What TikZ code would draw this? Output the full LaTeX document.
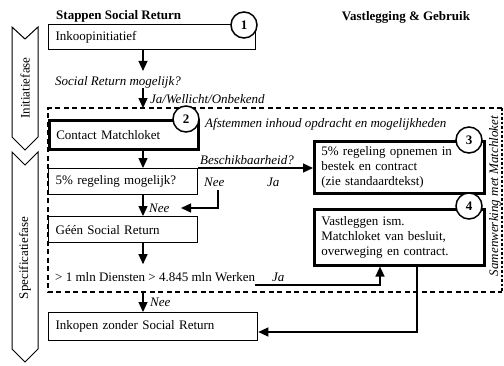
\documentclass[tikz,border=0pt]{standalone}
\usepackage{fontspec}
\setmainfont{Liberation Serif}
\usetikzlibrary{arrows.meta,positioning}
\begin{document}
\begin{tikzpicture}[x=1pt,y=-1pt]
\tikzset{Box/.style={%
        draw=black,%
        fill=white,%
        line width=1.3pt,%
        anchor=north west,%
        align=left,%
        inner xsep=7pt,%
        inner ysep=0pt,%
        font=\fontsize{13}{15}\selectfont,%
    }}
\tikzset{ThickBox/.style={Box, line width=2.6pt}}
\tikzset{StepNum/.style={shape=circle, draw=black, fill=white, line width=1.5pt,%
        minimum size=26pt, inner sep=0pt, font=\fontsize{13}{15}\selectfont\bfseries}}
\tikzset{Note/.style={anchor=west, inner sep=0pt, font=\fontsize{13}{15}\selectfont\itshape}}
\tikzset{Head/.style={anchor=west, inner sep=0pt, font=\fontsize{13}{15}\selectfont\bfseries}}
\tikzset{Flow/.style={-{Triangle[width=9pt,length=10pt]}, line width=1.3pt}}
\tikzset{Phase/.style={draw=black, fill=white, line width=1pt}}
\tikzset{Frame/.style={line width=1.2pt, dash pattern=on 5pt off 3.5pt}}

\useasboundingbox (0,0) rectangle (504,365);

\draw[Phase] (12,27) -- (25,39) -- (38,27) -- (38,137) -- (25,150) -- (12,137) -- cycle;
\draw[Phase] (12,152) -- (25,165) -- (38,152) -- (38,349) -- (25,362) -- (12,349) -- cycle;
\node[rotate=90, font=\fontsize{13}{15}\selectfont] (initfase) at (25,88) {Initiatiefase};
\node[rotate=90, font=\fontsize{13}{15}\selectfont] (specfase) at (25,258) {Specificatiefase};

\coordinate (frameNW) at (48,108);
\coordinate (frameSE) at (502,292);
\draw[Frame] (frameNW -| frameSE) -- (frameNW) -- (frameNW |- frameSE) -- (frameSE);
\draw[line width=2.6pt, dash pattern=on 2.5pt off 2pt] (frameNW -| frameSE) -- (frameSE);
\node[rotate=90, inner sep=0pt, font=\fontsize{13}{15}\selectfont\itshape] (samen) at (495,196) {Samenwerking met Matchloket};

\node[Head] (stappen) at (56,16) {Stappen Social Return};
\node[Head, anchor=center] (vastlegging) at (406,17) {Vastlegging \& Gebruik};

\node[Box, text width=193pt, minimum height=25pt] (init) at (48,24) {Inkoopinitiatief};
\node[ThickBox, text width=135pt, minimum height=29pt] (contact) at (48,119) {Contact Matchloket};
\node[Box, text width=135pt, minimum height=26pt] (regeling) at (48,168) {5\% regeling mogelijk?};
\node[Box, text width=135pt, minimum height=26pt] (geen) at (48,216) {Géén Social Return};
\node[Box, text width=195pt, minimum height=28pt] (inkopen) at (48,312) {Inkopen zonder Social Return};
\node[ThickBox, text width=156pt, minimum height=52pt] (opnemen) at (313,140)
    {5\% regeling opnemen in\\bestek en contract\\(zie standaardtekst)};
\node[ThickBox, text width=156pt, minimum height=56pt] (vastleggen) at (313,208)
    {Vastleggen ism.\\Matchloket van besluit,\\overweging en contract.};

\node[StepNum] (one) at (244,25) {1};
\node[StepNum] (two) at (186,119) {2};
\node[StepNum] (three) at (469,140) {3};
\node[StepNum] (four) at (469,206) {4};

\node[Note] (srvraag) at (55,82) {Social Return mogelijk?};
\node[Note] (jawel) at (150,99) {Ja/Wellicht/Onbekend};
\node[Note] (afstemmen) at (205,124) {Afstemmen inhoud opdracht en mogelijkheden};
\node[Note] (beschik) at (200,160) {Beschikbaarheid?};
\node[Note] (neeright) at (204,182) {Nee};
\node[Note] (jaright) at (267,182) {Ja};
\node[Note] (neeone) at (149,208) {Nee};
\node[Note, font=\fontsize{13}{15}\selectfont] (drempel) at (55,277) {> 1 mln Diensten > 4.845 mln Werken};
\node[Note] (jabottom) at (272,277) {Ja};
\node[Note] (neetwo) at (150,302) {Nee};

\coordinate (spine) at (143,0);
\coordinate (neetop) at (218,190);
\coordinate (neetip) at (181,208);
\coordinate (jastart) at (255,285);
\coordinate (jacol) at (380,0);
\coordinate (exitcol) at (417,0);
\coordinate (exitrow) at (0,332);

\draw[Flow, shorten >=5pt] (init.south -| spine) -- (srvraag.north -| spine);
\draw[Flow] (srvraag.south -| spine) -- (frameNW -| spine);
\draw[Flow] (contact.south -| spine) -- (regeling.north -| spine);
\draw[Flow] (regeling.south -| spine) -- (geen.north -| spine);
\draw[Flow, shorten >=8pt] (geen.south -| spine) -- (drempel.north -| spine);
\draw[Flow] (frameSE -| spine) -- (inkopen.north -| spine);
\draw[Flow] (regeling.north east) -- (regeling.north east -| opnemen.west);
\draw[Flow] (neetop) |- (neetip);
\draw[Flow] (jastart) -| (vastleggen.south -| jacol);
\draw[Flow] (vastleggen.south -| exitcol) |- (inkopen.east |- exitrow);
\end{tikzpicture}
\end{document}
